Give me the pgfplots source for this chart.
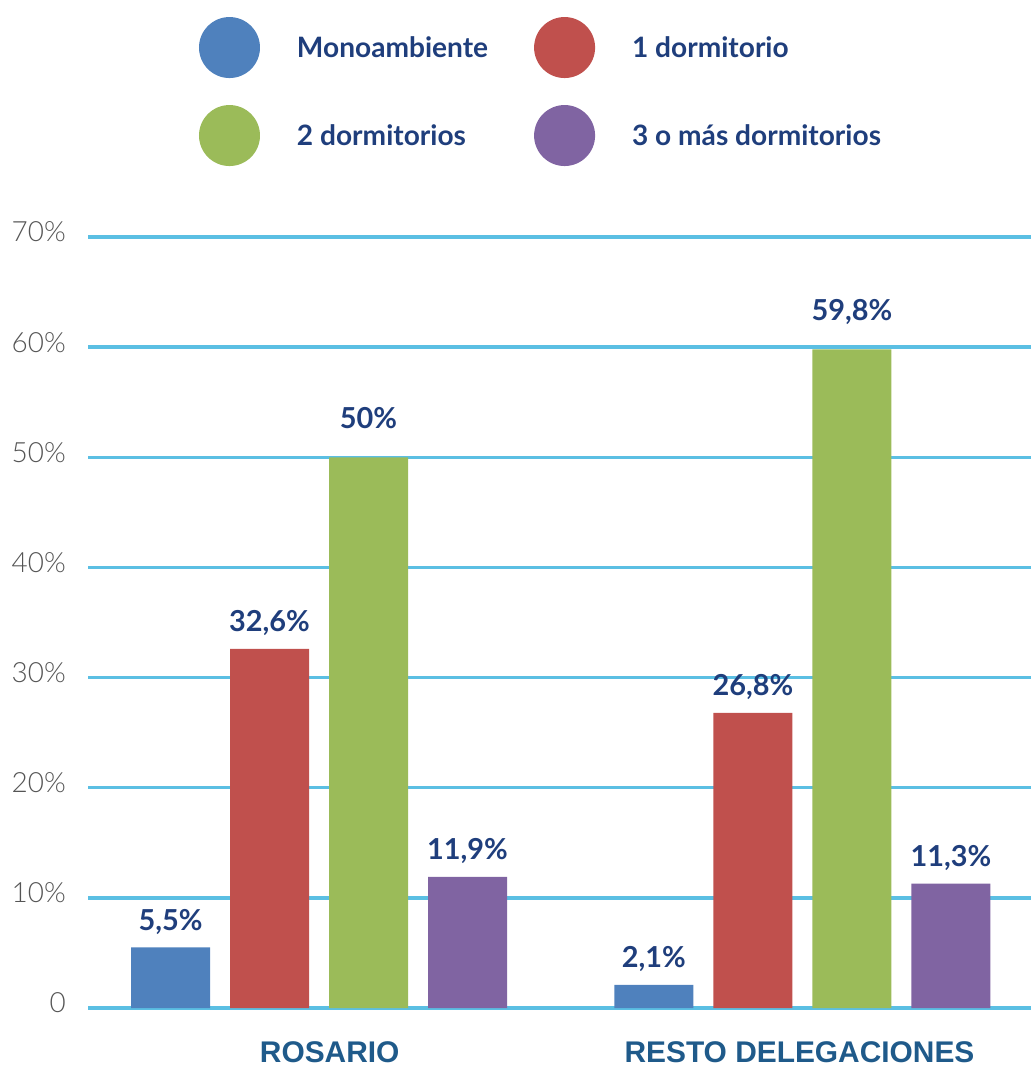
\documentclass[border=0pt]{standalone}
\usepackage{pgfplots}
\pgfplotsset{compat=1.18}
\usepackage{fontspec}
\setmainfont{Lato}
\newfontfamily\latolight{Lato Light}
\newfontfamily\catfont{Liberation Sans}

\definecolor{cMono}{HTML}{4F81BD}
\definecolor{cUno}{HTML}{C0504D}
\definecolor{cDos}{HTML}{9BBB59}
\definecolor{cTres}{HTML}{8064A2}
\definecolor{cGrid}{HTML}{5BBFE3}
\definecolor{cLabel}{HTML}{1F3E7C}
\definecolor{cCat}{HTML}{1F5A8A}
\definecolor{cTick}{HTML}{555555}

\begin{document}
\begin{tikzpicture}
\begin{axis}[
    at={(88bp,60bp)}, anchor=south west,
    scale only axis, width=943bp, height=771bp,
    xmin=-0.478, xmax=1.473, ymin=0, ymax=70,
    clip=false,
    ybar=20bp, bar width=79bp,
    every axis plot/.append style={
        draw=none,
        legend image code/.code={\fill[##1, draw=none] (30.5bp,0bp) circle (30.5bp);}
    },
    axis line style={draw=none},
    major tick length=0pt,
    ytick={0,10,...,70},
    yticklabels={0,10\%,20\%,30\%,40\%,50\%,60\%,70\%},
    yticklabel style={font=\latolight\fontsize{28}{30}\selectfont, text=cTick,
        inner sep=0pt, anchor=east, xshift=-22bp, yshift=5bp},
    xtick={0.022,0.994},
    xticklabels={ROSARIO,RESTO DELEGACIONES},
    xticklabel style={font=\catfont\bfseries\fontsize{30}{32}\selectfont, text=cCat,
        inner sep=0pt, anchor=north, yshift=-33bp},
    ymajorgrids,
    grid style={line width=3.5bp, color=cGrid},
    nodes near coords={\pgfmathprintnumber[fixed, precision=1, use comma, assume math mode=true]{\pgfplotspointmeta}\%},
    every node near coord/.append style={font=\bfseries\fontsize{29}{30}\selectfont,
        text=cLabel, inner sep=0pt, text depth=0pt, yshift=17bp},
    legend columns=2,
    legend cell align=left,
    legend style={at={(0.1177,1.2853)}, anchor=north west, draw=none, fill=none,
        inner sep=0pt, outer sep=0pt, row sep=27bp,
        font=\bfseries\fontsize{28.2}{30}\selectfont, text=cLabel,
        nodes={inner sep=0pt},
        /tikz/every odd column/.append style={column sep=37bp},
        /tikz/every even column/.append style={column sep=46bp}},
]
\addplot[fill=cMono] coordinates {(0,5.5) (1,2.1)};
\addplot[fill=cUno] coordinates {(0,32.6) (1,26.8)};
\addplot[fill=cDos, every node near coord/.append style={yshift=12bp}] coordinates {(0,50) (1,59.8)};
\addplot[fill=cTres] coordinates {(0,11.9) (1,11.3)};
\legend{Monoambiente,1 dormitorio,2 dormitorios,3 o más dormitorios}
\end{axis}
\pgfresetboundingbox
\useasboundingbox (0,0) rectangle (1031bp,1068bp);
\end{tikzpicture}
\end{document}
